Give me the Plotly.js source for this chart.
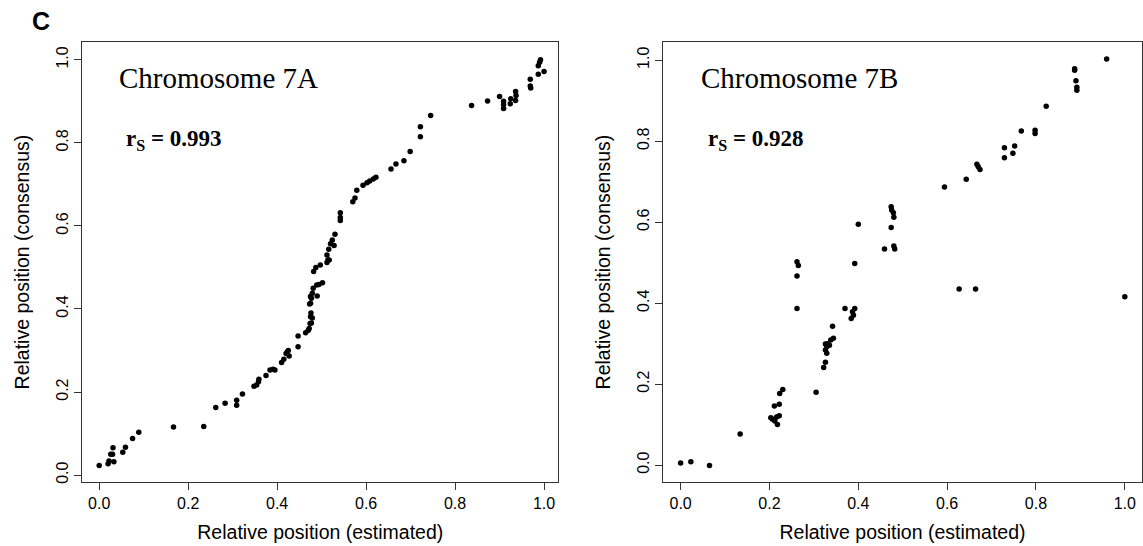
<!DOCTYPE html>
<html>
<head>
<meta charset="utf-8">
<script src="https://cdn.plot.ly/plotly-3.0.1.min.js"></script>
<style>html,body{margin:0;padding:0;background:#fff;}#chart{width:1143px;height:546px;}</style>
</head>
<body>
<div id="chart"></div>
<script>
// Chromosome 7A: relative position (estimated) vs (consensus)
const xA = [0.000,0.020,0.022,0.026,0.030,0.031,0.033,0.053,0.059,0.075,0.089,0.167,0.235,0.262,0.283,0.309,0.309,0.322,0.348,0.354,0.358,0.359,0.375,0.384,0.391,0.395,0.410,0.415,0.420,0.423,0.427,0.425,0.447,0.447,0.464,0.470,0.472,0.474,0.477,0.479,0.475,0.476,0.473,0.475,0.477,0.475,0.479,0.490,0.481,0.489,0.494,0.502,0.482,0.487,0.497,0.512,0.514,0.517,0.512,0.516,0.520,0.528,0.524,0.530,0.542,0.542,0.542,0.570,0.575,0.579,0.593,0.602,0.608,0.616,0.622,0.656,0.667,0.685,0.699,0.722,0.722,0.745,0.837,0.873,0.900,0.909,0.909,0.909,0.924,0.925,0.936,0.937,0.936,0.969,0.969,0.970,0.987,1.000,0.987,0.992,0.990];
const yA = [0.023,0.027,0.034,0.050,0.050,0.066,0.032,0.055,0.067,0.088,0.103,0.116,0.117,0.163,0.173,0.180,0.168,0.195,0.214,0.217,0.225,0.231,0.240,0.253,0.255,0.253,0.271,0.279,0.293,0.297,0.287,0.300,0.309,0.335,0.343,0.349,0.353,0.365,0.366,0.378,0.381,0.390,0.412,0.414,0.426,0.430,0.438,0.431,0.450,0.458,0.459,0.463,0.490,0.500,0.506,0.512,0.518,0.518,0.530,0.544,0.557,0.553,0.566,0.580,0.613,0.620,0.632,0.658,0.667,0.686,0.698,0.704,0.708,0.713,0.717,0.737,0.749,0.757,0.779,0.815,0.839,0.866,0.890,0.901,0.912,0.900,0.892,0.883,0.894,0.906,0.924,0.914,0.902,0.953,0.937,0.932,0.965,0.972,0.986,1.000,0.994];

// Chromosome 7B
const xB = [0.000,0.023,0.065,0.134,0.203,0.207,0.212,0.216,0.222,0.218,0.211,0.222,0.223,0.230,0.305,0.322,0.326,0.329,0.326,0.329,0.326,0.330,0.335,0.338,0.344,0.342,0.370,0.384,0.389,0.392,0.387,0.392,0.262,0.265,0.262,0.262,0.459,0.480,0.482,0.474,0.475,0.479,0.480,0.474,0.400,0.594,0.643,0.667,0.670,0.674,0.729,0.729,0.748,0.752,0.767,0.798,0.798,0.823,0.887,0.887,0.890,0.892,0.892,0.959,0.627,0.664,1.000];
const yB = [0.005,0.008,-0.001,0.077,0.117,0.113,0.109,0.119,0.122,0.100,0.146,0.150,0.177,0.187,0.180,0.241,0.254,0.276,0.284,0.292,0.299,0.300,0.296,0.309,0.313,0.343,0.387,0.362,0.370,0.387,0.379,0.498,0.502,0.493,0.467,0.387,0.534,0.541,0.534,0.638,0.630,0.623,0.612,0.587,0.595,0.687,0.706,0.743,0.737,0.730,0.784,0.759,0.770,0.788,0.825,0.827,0.819,0.886,0.979,0.975,0.949,0.933,0.926,1.003,0.435,0.435,0.416];

const tickVals = [0, 0.2, 0.4, 0.6, 0.8, 1.0];
const tickText = ['0.0', '0.2', '0.4', '0.6', '0.8', '1.0'];
const panelTitles = ['Chromosome 7A', 'Chromosome 7B'];
const rsValues = ['0.993', '0.928'];
const xTitle = 'Relative position (estimated)';
const yTitle = 'Relative position (consensus)';

const W = 1143, H = 546;
const sans = 'Liberation Sans, Arial, Helvetica, sans-serif';
const serif = 'Liberation Serif, Times New Roman, serif';

const marker = {color: '#000', size: 5.5};
const traces = [
  {x: xA, y: yA, type: 'scatter', mode: 'markers', marker: marker, xaxis: 'x', yaxis: 'y', hoverinfo: 'x+y'},
  {x: xB, y: yB, type: 'scatter', mode: 'markers', marker: marker, xaxis: 'x2', yaxis: 'y2', hoverinfo: 'x+y'}
];

function axis(extra) {
  return Object.assign({
    showline: true, mirror: true, linecolor: '#333', linewidth: 1,
    ticks: 'outside', ticklen: 7, tickwidth: 1, tickcolor: '#333',
    tickvals: tickVals, ticktext: tickText,
    showgrid: false, zeroline: false,
    tickfont: {family: sans, size: 16, color: '#000'},
    fixedrange: true
  }, extra);
}

const titleFont = {family: sans, size: 19.5, color: '#000'};
const yDom = [1 - 481.7 / H, 1 - 42.4 / H];
const layout = {
  width: W, height: H,
  margin: {l: 0, r: 0, t: 0, b: 0},
  paper_bgcolor: '#fff', plot_bgcolor: '#fff',
  showlegend: false,
  xaxis: axis({domain: [82.3 / W, 558.3 / W], range: [-0.038, 1.032], anchor: 'y',
    title: {text: xTitle, font: titleFont, standoff: 14}}),
  yaxis: axis({domain: yDom, range: [-0.016, 1.042], anchor: 'x', tickangle: -90,
    title: {text: yTitle, font: titleFont, standoff: 19}}),
  xaxis2: axis({domain: [663.3 / W, 1141.7 / W], range: [-0.039, 1.038], anchor: 'y2',
    title: {text: xTitle, font: titleFont, standoff: 14}}),
  yaxis2: axis({domain: yDom, range: [-0.041, 1.044], anchor: 'x2', tickangle: -90,
    title: {text: yTitle, font: titleFont, standoff: 19}}),
  annotations: [
    {text: '<b>C</b>', xref: 'paper', yref: 'paper', x: 41 / W, y: 1 - 21 / H, xanchor: 'center', yanchor: 'middle',
     showarrow: false, font: {family: sans, size: 25, color: '#000'}},
    {text: panelTitles[0], xref: 'paper', yref: 'paper', x: 117 / W, y: 1 - 78 / H, xanchor: 'left', yanchor: 'middle',
     showarrow: false, font: {family: serif, size: 29, color: '#000'}},
    {text: '<b>r<sub>S</sub> = ' + rsValues[0] + '</b>', xref: 'paper', yref: 'paper', x: 124 / W, y: 1 - 140 / H, xanchor: 'left', yanchor: 'middle',
     showarrow: false, font: {family: serif, size: 23, color: '#000'}},
    {text: panelTitles[1], xref: 'paper', yref: 'paper', x: 699 / W, y: 1 - 78 / H, xanchor: 'left', yanchor: 'middle',
     showarrow: false, font: {family: serif, size: 29, color: '#000'}},
    {text: '<b>r<sub>S</sub> = ' + rsValues[1] + '</b>', xref: 'paper', yref: 'paper', x: 706 / W, y: 1 - 140 / H, xanchor: 'left', yanchor: 'middle',
     showarrow: false, font: {family: serif, size: 23, color: '#000'}}
  ]
};

Plotly.newPlot('chart', traces, layout, {displayModeBar: false, staticPlot: true});
</script>
</body>
</html>
